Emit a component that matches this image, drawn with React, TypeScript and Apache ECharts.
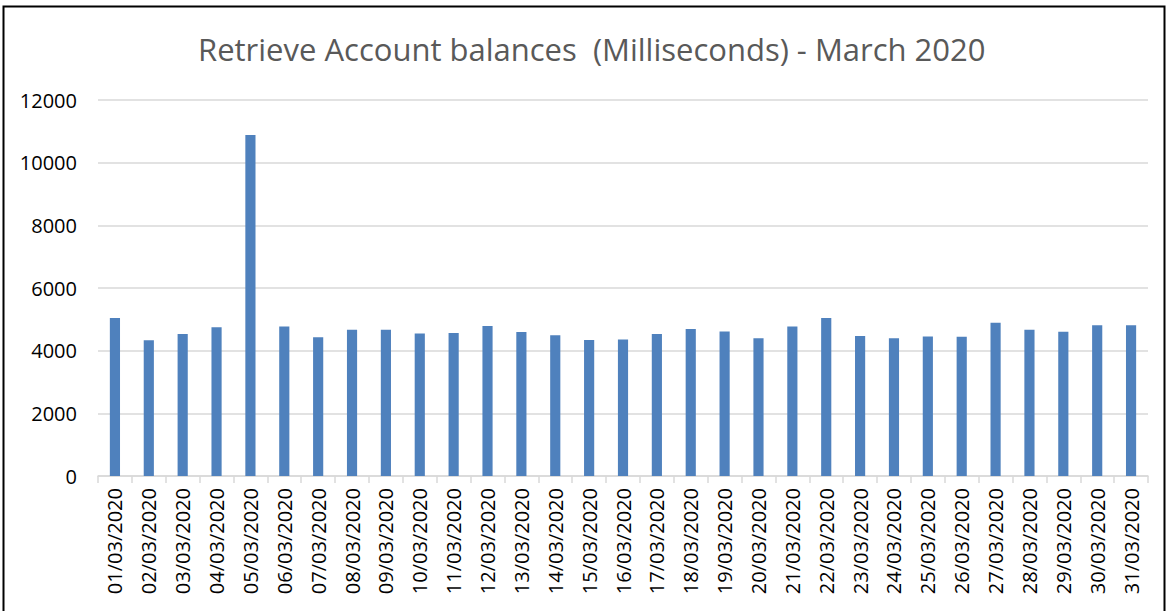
import React, { useEffect, useRef } from "react";
import * as echarts from "echarts";

const titleText = "Retrieve Account balances  (Milliseconds) - March 2020";
const categories = [
  "01/03/2020", "02/03/2020", "03/03/2020", "04/03/2020", "05/03/2020", "06/03/2020",
  "07/03/2020", "08/03/2020", "09/03/2020", "10/03/2020", "11/03/2020", "12/03/2020",
  "13/03/2020", "14/03/2020", "15/03/2020", "16/03/2020", "17/03/2020", "18/03/2020",
  "19/03/2020", "20/03/2020", "21/03/2020", "22/03/2020", "23/03/2020", "24/03/2020",
  "25/03/2020", "26/03/2020", "27/03/2020", "28/03/2020", "29/03/2020", "30/03/2020",
  "31/03/2020",
];
const values = [
  5040, 4330, 4530, 4750, 10880, 4775, 4425, 4670, 4670, 4550, 4560, 4785,
  4595, 4490, 4340, 4360, 4530, 4690, 4615, 4400, 4775, 5040, 4470, 4400,
  4455, 4445, 4890, 4670, 4605, 4815, 4815,
];
const yMin = 0;
const yMax = 12000;
const yStep = 2000;

export default function App() {
  const ref = useRef<HTMLDivElement>(null);
  useEffect(() => {
    if (!ref.current) return;
    const chart = echarts.init(ref.current, null, { renderer: "svg" });
    chart.setOption({
      animation: false,
      backgroundColor: "#ffffff",
      title: {
        text: titleText,
        left: 193,
        top: 28,
        textStyle: {
          fontFamily: "Open Sans",
          fontSize: 31,
          fontWeight: "normal",
          color: "#595959",
        },
      },
      graphic: [
        {
          type: "rect",
          shape: { x: 3.5, y: 6.5, width: 1161, height: 700 },
          style: { fill: "none", stroke: "#000000", lineWidth: 2 },
          silent: true,
        },
      ],
      grid: { left: 98, right: 21, top: 100, bottom: 135, containLabel: false },
      xAxis: {
        type: "category",
        data: categories,
        boundaryGap: true,
        axisLine: { show: true, lineStyle: { color: "#d9d9d9", width: 1.5 } },
        axisTick: { show: true, interval: 0, length: 7, lineStyle: { color: "#d9d9d9", width: 1.5 } },
        axisLabel: {
          interval: 0,
          rotate: 90,
          margin: 12,
          fontFamily: "Open Sans",
          fontSize: 20,
          color: "#000000",
        },
      },
      yAxis: {
        type: "value",
        min: yMin,
        max: yMax,
        interval: yStep,
        axisLine: { show: false },
        axisTick: { show: false },
        splitLine: { lineStyle: { color: "#d9d9d9", width: 1.5 } },
        axisLabel: {
          margin: 21,
          fontFamily: "Open Sans",
          fontSize: 20,
          color: "#000000",
          formatter: (v: number) => String(v),
        },
      },
      series: [
        {
          type: "bar",
          data: values,
          barCategoryGap: "70%",
          itemStyle: { color: "#4f81bd" },
        },
      ],
    });
    return () => chart.dispose();
  }, []);
  return (
    <div
      ref={ref}
      style={{ position: "absolute", left: 0, top: 0, width: 1169, height: 611 }}
    />
  );
}
